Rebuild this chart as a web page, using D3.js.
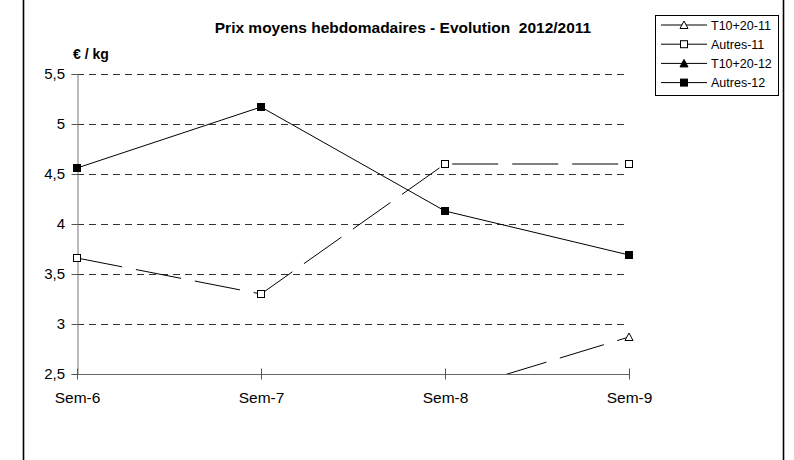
<!DOCTYPE html>
<html><head><meta charset="utf-8">
<script src="https://cdn.jsdelivr.net/npm/d3@7"></script>
<style>body{margin:0;background:#fff}svg{display:block;font-family:"Liberation Sans",Arial,sans-serif}text{white-space:pre}</style>
</head><body><svg id="c" width="794" height="460"></svg>
<script>
const categories = ["Sem-6","Sem-7","Sem-8","Sem-9"];
const yTicks = [2.5,3,3.5,4,4.5,5,5.5];
const seriesNames = ["T10+20-11","Autres-11","T10+20-12","Autres-12"];
const t1020_11 = [null,null,2.31,2.87];
const autres_11 = [3.66,3.30,4.60,4.60];
const t1020_12 = [null,null,null,null];
const autres_12 = [4.56,5.17,4.13,3.69];
const title = "Prix moyens hebdomadaires - Evolution  2012/2011";
const yLabel = "€ / kg";

const series = [
  {name:seriesNames[0], values:t1020_11, marker:"triangle", fill:"#fff", dash:"46,14"},
  {name:seriesNames[1], values:autres_11, marker:"square", fill:"#fff", dash:"46,14"},
  {name:seriesNames[2], values:t1020_12, marker:"triangle", fill:"#000", dash:null},
  {name:seriesNames[3], values:autres_12, marker:"square", fill:"#000", dash:null}
];

const svg = d3.select("#c");
const x = d3.scalePoint().domain(categories).range([77,629]);
const y = d3.scaleLinear().domain([2.5,5.5]).range([374,74]);

// outer frame
svg.append("rect").attr("x",23.5).attr("y",-10).attr("width",760).attr("height",500)
  .attr("fill","none").attr("stroke","#000").attr("stroke-width",1.6);

// clip
svg.append("clipPath").attr("id","plot").append("rect")
  .attr("x",60).attr("y",y(5.5)-10).attr("width",600).attr("height",y(2.5)-y(5.5)+10);

// gridlines
svg.append("g").selectAll("line").data(yTicks.filter(d=>d>2.5)).join("line")
  .attr("x1",x(categories[0])).attr("x2",x(categories[3]))
  .attr("y1",d=>Math.round(y(d))+0.5).attr("y2",d=>Math.round(y(d))+0.5)
  .attr("stroke","#333").attr("stroke-dasharray","7,5").attr("stroke-width",1);

// y axis
const yAxis = svg.append("g").attr("transform",`translate(${x(categories[0])+0.5},0)`)
  .call(d3.axisLeft(y).tickValues(yTicks).tickSize(6).tickPadding(4)
    .tickFormat(d=>d3.format(".1~f")(d).replace(".",",")));
yAxis.select(".domain").attr("stroke","#777");
yAxis.selectAll(".tick line").attr("stroke","#555");
yAxis.selectAll("text").attr("font-size",15).attr("fill","#000").attr("x",-12.5)
  .attr("font-family","Liberation Sans, Arial, sans-serif");

// x axis
const xAxis = svg.append("g").attr("transform",`translate(0,${y(2.5)+0.5})`)
  .call(d3.axisBottom(x).tickSize(5).tickPadding(12));
xAxis.select(".domain").attr("stroke","#666").attr("d",`M${x(categories[0])},0H${x(categories[3])}`);
xAxis.selectAll(".tick line").attr("stroke","#555").attr("y1",-6).attr("y2",5);
xAxis.selectAll("text").attr("font-size",15.5).attr("fill","#000")
  .attr("font-family","Liberation Sans, Arial, sans-serif");

// lines
const line = d3.line().defined(d=>d.v!=null).x(d=>x(d.c)).y(d=>y(d.v));
const g = svg.append("g").attr("clip-path","url(#plot)");
series.forEach(s=>{
  const pts = s.values.map((v,i)=>({c:categories[i],v}));
  g.append("path").attr("d",line(pts)).attr("fill","none").attr("stroke","#000")
    .attr("stroke-width",1).attr("stroke-dasharray",s.dash);
});
function drawMarker(sel, type, fill, cx, cy){
  if(type==="square"){
    sel.append("rect").attr("x",cx-3.5).attr("y",cy-3.5).attr("width",7).attr("height",7)
      .attr("fill",fill).attr("stroke","#000").attr("stroke-width",1);
  } else {
    sel.append("path").attr("d",`M${cx},${cy-4}L${cx+4},${cy+3.5}L${cx-4},${cy+3.5}Z`)
      .attr("fill",fill).attr("stroke","#000").attr("stroke-width",1);
  }
}
series.forEach(s=>{
  s.values.forEach((v,i)=>{
    if(v==null || v<2.5 || v>5.5) return;
    drawMarker(g, s.marker, s.fill, x(categories[i]), y(v));
  });
});

// title
svg.append("text").attr("x",403).attr("y",32.5).attr("text-anchor","middle")
  .attr("font-size",15.5).attr("font-weight","bold").text(title);
svg.append("text").attr("x",73).attr("y",59).attr("font-size",14).attr("font-weight","bold").text(yLabel);

// legend
const lg = svg.append("g");
lg.append("rect").attr("x",655.5).attr("y",15.5).attr("width",123).attr("height",80)
  .attr("fill","#fff").attr("stroke","#000").attr("stroke-width",1);
series.forEach((s,i)=>{
  const ly = 25 + i*19.2;
  lg.append("line").attr("x1",661).attr("x2",707).attr("y1",ly).attr("y2",ly).attr("stroke","#000");
  drawMarker(lg, s.marker, s.fill, 684, ly);
  lg.append("text").attr("x",711).attr("y",ly+4.5).attr("font-size",12.5).text(s.name);
});
</script></body></html>
